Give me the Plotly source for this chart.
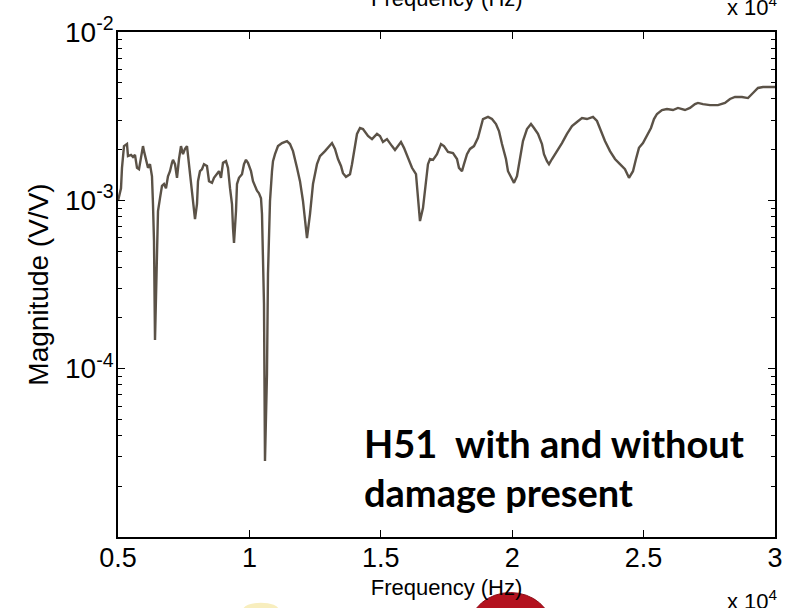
import plotly.graph_objects as go

# Frequency response H51 (magnitude, V/V) with and without damage present
freq_hz = [
    5000, 5114, 5152, 5228, 5342, 5380, 5495, 5571, 5647, 5723, 5799, 5875, 5951, 5989,
    6103, 6141, 6217, 6293, 6331, 6370, 6408, 6484, 6522, 6598, 6674, 6750, 6826, 6902,
    6978, 7054, 7093, 7169, 7245, 7321, 7397, 7473, 7549, 7625, 7701, 7777, 7853, 7930,
    8006, 8044, 8120, 8196, 8272, 8386, 8463, 8577, 8653, 8767, 8843, 8919, 8995, 9109,
    9185, 9262, 9338, 9376, 9414, 9490, 9528, 9604, 9718, 9794, 9870, 9946, 10061, 10137,
    10289, 10365, 10441, 10479, 10555, 10593, 10669, 10707, 10745, 10784, 10860, 10898,
    10974, 11088, 11240, 11430, 11544, 11659, 11811, 11925, 12039, 12115, 12191, 12306,
    12420, 12572, 12686, 12876, 13029, 13143, 13257, 13371, 13485, 13561, 13675, 13828,
    13904, 13980, 14094, 14208, 14322, 14513, 14665, 14855, 14969, 15083, 15235, 15426,
    15540, 15654, 15768, 15882, 16035, 16187, 16339, 16415, 16491, 16605, 16719, 16795,
    16872, 16986, 17138, 17290, 17404, 17557, 17747, 17899, 17975, 18089, 18165, 18280,
    18394, 18546, 18698, 18774, 18888, 19079, 19231, 19383, 19497, 19611, 19763, 19840,
    19954, 20068, 20182, 20296, 20410, 20562, 20715, 20829, 20981, 21133, 21209, 21323,
    21400, 21514, 21704, 21894, 22084, 22275, 22465, 22655, 22845, 22959, 23074, 23226,
    23340, 23530, 23721, 23911, 24101, 24291, 24444, 24596, 24710, 24824, 24976, 25128,
    25281, 25395, 25509, 25699, 25889, 26118, 26308, 26574, 26765, 26955, 27069, 27259,
    27526, 27830, 28096, 28287, 28477, 28743, 28972, 29162, 29352, 29543, 29809, 30000,
]

# magnitude in units of 1e-3 V/V
magnitude_milli = [
    0.991, 1.18, 1.56, 2.10, 2.16, 1.83, 1.86, 1.81, 1.86, 1.56, 1.53, 1.83, 2.10, 1.96,
    1.64, 1.56, 1.64, 1.39, 0.951, 0.573, 0.148, 0.521, 0.864, 1.03, 1.22, 1.25, 1.18, 1.39,
    1.49, 1.67, 1.74, 1.64, 1.36, 1.76, 2.10, 1.88, 2.02, 2.10, 1.64, 1.36, 1.09, 0.774,
    0.951, 1.30, 1.49, 1.53, 1.64, 1.60, 1.30, 1.27, 1.36, 1.43, 1.49, 1.36, 1.67, 1.71,
    1.56, 1.18, 0.951, 0.685, 0.558, 0.864, 1.25, 1.36, 1.43, 1.64, 1.74, 1.67, 1.49, 1.30,
    1.14, 1.10, 1.03, 0.829, 0.242, 0.0283, 0.0929, 0.365, 0.573, 0.991, 1.49, 1.71,
    1.88, 2.10, 2.19, 2.25, 2.16, 1.96, 1.56, 1.30, 0.991, 0.774, 0.597, 0.829,
    1.25, 1.64, 1.83, 1.96, 2.10, 2.19, 2.02, 1.76, 1.60, 1.45, 1.38, 1.43,
    1.64, 1.96, 2.48, 2.69, 2.65, 2.41, 2.31, 2.48, 2.41, 2.22, 2.31, 2.10,
    1.99, 2.10, 2.22, 2.05, 1.78, 1.56, 1.43, 1.03, 0.753, 0.900, 1.30, 1.64,
    1.76, 1.74, 1.88, 2.16, 2.10, 1.94, 1.91, 1.76, 1.56, 1.49, 1.64, 1.88,
    2.02, 2.10, 2.35, 2.65, 3.04, 3.13, 3.04, 2.84, 2.58, 2.16, 1.76, 1.49,
    1.36, 1.27, 1.39, 1.76, 2.25, 2.65, 2.84, 2.69, 2.48, 2.16, 1.88, 1.71,
    1.64, 1.76, 1.96, 2.19, 2.48, 2.76, 2.92, 3.08, 3.04, 3.08, 3.13, 2.96,
    2.65, 2.25, 1.96, 1.76, 1.64, 1.53, 1.36, 1.49, 1.76, 2.05, 2.19, 2.41,
    2.69, 3.04, 3.26, 3.44, 3.49, 3.44, 3.54, 3.44, 3.54, 3.73, 3.79, 3.73,
    3.68, 3.68, 3.79, 4.00, 4.11, 4.11, 4.05, 4.34, 4.65, 4.71, 4.71, 4.71,
]

x_ticks = [5000, 10000, 15000, 20000, 25000, 30000]
x_tick_text = ["0.5", "1", "1.5", "2", "2.5", "3"]
y_ticks = [1e-4, 1e-3, 1e-2]
y_tick_text = ["10<sup>-4</sup>", "10<sup>-3</sup>", "10<sup>-2</sup>"]
# log-axis minor ticks at 2..9 within each decade
y_minor_ticks = [d * 10.0 ** e for e in (-5, -4, -3) for d in range(2, 10)]

magnitude = [m * 1e-3 for m in magnitude_milli]

FONT = "Liberation Sans, Arial, sans-serif"

fig = go.Figure()
fig.add_trace(go.Scatter(
    x=freq_hz, y=magnitude, mode="lines",
    line=dict(color="#5b5247", width=2.4),
    showlegend=False, hoverinfo="skip",
))

fig.update_layout(
    width=793, height=608,
    margin=dict(l=118, r=18, t=32, b=71),
    paper_bgcolor="white", plot_bgcolor="white",
    font=dict(family=FONT, color="black", size=22),
    xaxis=dict(
        range=[5000, 30000], tickvals=x_ticks, ticktext=x_tick_text,
        ticks="inside", ticklen=7, tickwidth=1, tickcolor="black",
        showline=True, linecolor="black", linewidth=1.5, mirror="allticks",
        showgrid=False, zeroline=False, automargin=False,
        tickfont=dict(size=27), ticklabelstandoff=-4,
        title=dict(text="Frequency (Hz)", font=dict(size=22), standoff=7),
    ),
    yaxis=dict(
        type="log", range=[-5, -2], tickvals=y_ticks, ticktext=y_tick_text,
        ticks="inside", ticklen=7, tickwidth=1, tickcolor="black",
        minor=dict(tickmode="array", tickvals=y_minor_ticks, ticks="inside",
                   ticklen=4, tickwidth=1, tickcolor="black", showgrid=False),
        showline=True, linecolor="black", linewidth=1.5, mirror="allticks",
        showgrid=False, zeroline=False, automargin=False,
        tickfont=dict(size=28), ticklabelstandoff=-3,
        title=dict(text="Magnitude (V/V)", font=dict(size=28), standoff=8),
    ),
)

# exponent multiplier for the frequency axis
fig.add_annotation(xref="paper", yref="paper", x=1.008, y=-0.125, xanchor="right", yanchor="middle",
                   text="x 10<sup>4</sup>", showarrow=False, font=dict(size=22))

# labels of the panel above, running off the top edge
fig.add_annotation(xref="paper", yref="paper", x=0.5, y=1.067, xanchor="center", yanchor="middle",
                   text="Frequency (Hz)", showarrow=False, font=dict(size=22))
fig.add_annotation(xref="paper", yref="paper", x=1.008, y=1.051, xanchor="right", yanchor="middle",
                   text="x 10<sup>4</sup>", showarrow=False, font=dict(size=22))

# caption inside the axes
fig.add_annotation(xref="paper", yref="paper", x=0.371, y=0.138, xanchor="left", yanchor="middle",
                   align="left", showarrow=False,
                   text="<b>H51  with and without<br>damage present</b>",
                   font=dict(family="Lato, Open Sans, sans-serif", size=38, color="black"))

# coloured badges peeking in along the bottom edge
fig.add_shape(type="circle", xref="paper", yref="paper", layer="below",
              x0=0.535, x1=0.66, y0=-0.25, y1=-0.11,
              fillcolor="#b3121f", line=dict(color="#8e0d18", width=1))
fig.add_shape(type="circle", xref="paper", yref="paper", layer="below",
              x0=0.19, x1=0.245, y0=-0.16, y1=-0.13,
              fillcolor="#f8eebe", line=dict(width=0))

fig.write_html("out.html")
